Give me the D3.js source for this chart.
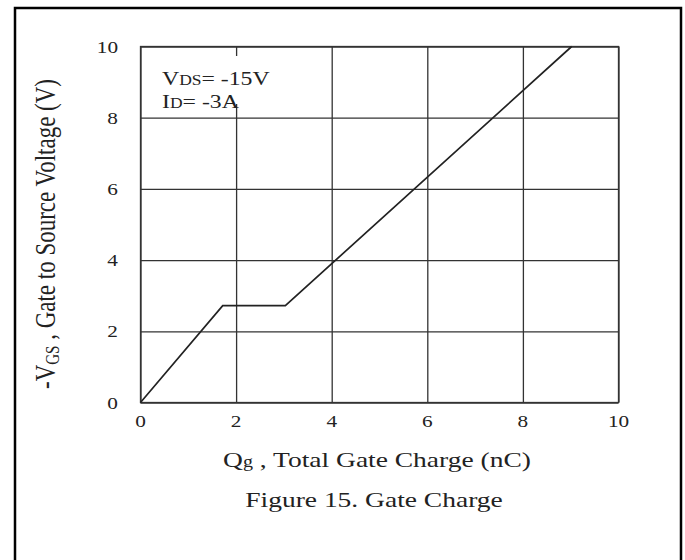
<!DOCTYPE html>
<html lang="en">
<head>
<meta charset="UTF-8">
<title>Figure 15. Gate Charge</title>
<script src="https://cdn.jsdelivr.net/npm/d3@7"></script>
<style>
html,body{margin:0;padding:0;background:#fff;}
svg{display:block;}
text{font-family:"Liberation Serif","Times New Roman",serif;fill:#222;}
</style>
</head>
<body>
<script>
// curve: Qg (nC) vs -VGS (V)
const qg  = [0, 1.72, 3.03, 9.02];
const vgs = [0, 2.72, 2.72, 10];
const xTicks = [0, 2, 4, 6, 8, 10];
const yTicks = [0, 2, 4, 6, 8, 10];

const W = 685, H = 560;
const SX = 1.25;   // the original scan is stretched sideways
const plotL = 140.5, plotR = 618.5, plotT = 46.5, plotB = 402.5;

const svg = d3.select("body").append("svg").attr("width", W).attr("height", H);

// outer frame (open at the bottom, runs off the page)
svg.append("path")
  .attr("d", `M15,${H+5}V8H681V${H+5}`)
  .attr("fill", "none").attr("stroke", "#000").attr("stroke-width", 2.5);

const x = d3.scaleLinear().domain([0, 10]).range([plotL, plotR]);
const y = d3.scaleLinear().domain([0, 10]).range([plotB, plotT]);

// grid
const gx = svg.append("g").attr("transform", `translate(0,${plotB})`)
  .call(d3.axisBottom(x).tickValues(xTicks).tickSize(-(plotB - plotT)).tickFormat(""));
const gy = svg.append("g").attr("transform", `translate(${plotL},0)`)
  .call(d3.axisLeft(y).tickValues(yTicks).tickSize(-(plotR - plotL)).tickFormat(""));
[gx, gy].forEach(g => {
  g.select(".domain").remove();
  g.selectAll("line").attr("stroke", "#333").attr("stroke-width", 1.3);
});
svg.append("rect").attr("x", plotL).attr("y", plotT)
  .attr("width", plotR - plotL).attr("height", plotB - plotT)
  .attr("fill", "none").attr("stroke", "#333").attr("stroke-width", 1.3);

// tick labels
svg.append("g").selectAll("text").data(xTicks).join("text")
  .attr("transform", d => `translate(${x(d)},427) scale(${SX},1)`)
  .attr("text-anchor", "middle").attr("font-size", 17).text(d => d);
svg.append("g").selectAll("text").data(yTicks).join("text")
  .attr("transform", d => `translate(118,${y(d) + 6}) scale(${SX},1)`)
  .attr("text-anchor", "end").attr("font-size", 17).text(d => d);

// curve
const line = d3.line().x(d => x(d[0])).y(d => y(d[1]));
svg.append("path").datum(d3.zip(qg, vgs))
  .attr("d", line).attr("fill", "none")
  .attr("stroke", "#222").attr("stroke-width", 1.7);

// test conditions box
svg.append("rect").attr("x", 150).attr("y", 56).attr("width", 150).attr("height", 48).attr("fill", "#fff");
const t1 = svg.append("text").attr("transform", `translate(162,85) scale(${SX},1)`).attr("font-size", 19);
t1.append("tspan").text("V");
t1.append("tspan").attr("font-size", 14).text("DS");
t1.append("tspan").text("= -15V");
const t2 = svg.append("text").attr("transform", `translate(162,108) scale(${SX},1)`).attr("font-size", 19);
t2.append("tspan").text("I");
t2.append("tspan").attr("font-size", 14).text("D");
t2.append("tspan").text("= -3A");

// axis titles
const xt = svg.append("text").attr("transform", `translate(377,467) scale(${SX},1)`)
  .attr("text-anchor", "middle").attr("font-size", 22);
xt.append("tspan").text("Q");
xt.append("tspan").attr("font-size", 16).text("g");
xt.append("tspan").text(" , Total Gate Charge (nC)");

const yt = svg.append("text").attr("transform", `translate(55,234) scale(${SX},1) rotate(-90)`)
  .attr("text-anchor", "middle").attr("font-size", 23);
yt.append("tspan").text("-V");
yt.append("tspan").attr("font-size", 15).attr("dy", 3).text("GS");
yt.append("tspan").attr("dy", -3).text(" , Gate to Source Voltage (V)");

svg.append("text").attr("transform", `translate(374,507) scale(${SX},1)`)
  .attr("text-anchor", "middle").attr("font-size", 22).text("Figure 15. Gate Charge");
</script>
</body>
</html>
